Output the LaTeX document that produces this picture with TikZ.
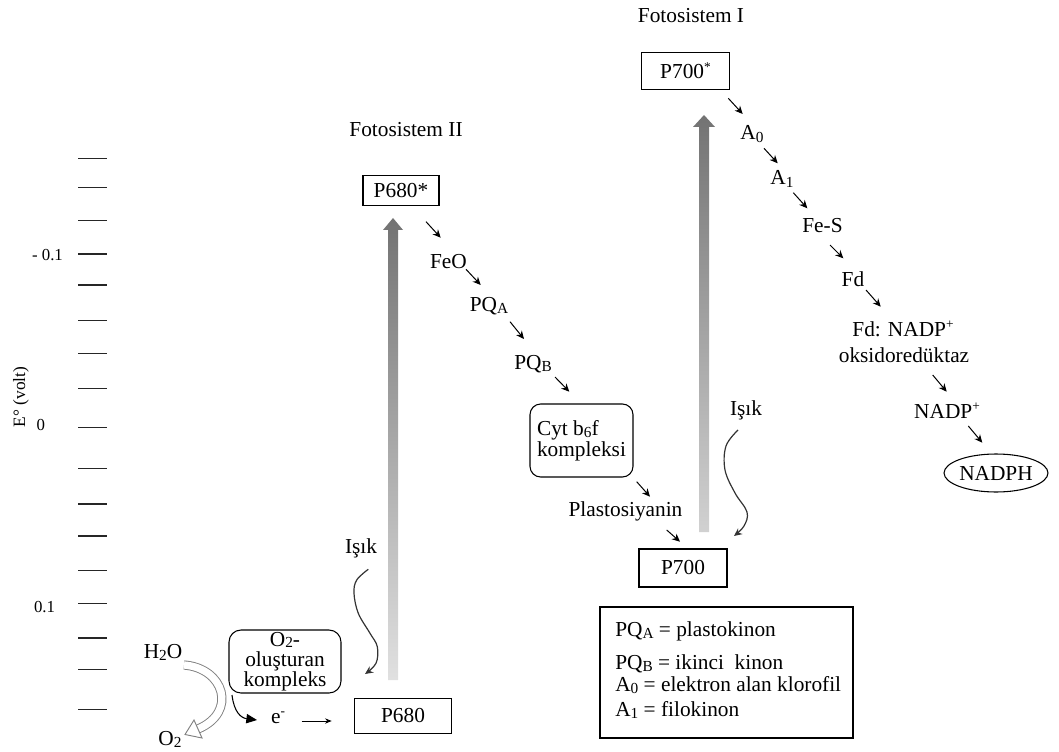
\documentclass[tikz,border=0pt]{standalone}
\usepackage{fontspec}
\setmainfont{Liberation Serif}
\usetikzlibrary{arrows.meta,shapes.geometric,calc}
\newcommand\mf{\fontsize{16}{19}\selectfont}
\newcommand\tf{\fontsize{12.6}{14}\selectfont}
\newcommand\lowsub[1]{\raisebox{-1.6pt}{\fontsize{11.5}{12}\selectfont #1}}
\newcommand\hisup[1]{\raisebox{5.5pt}{\fontsize{10}{10}\selectfont #1}}
\begin{document}
\begin{tikzpicture}[x=0.75pt,y=-0.75pt,
  lab/.style={font=\mf, inner sep=0pt, anchor=base},
  labw/.style={font=\mf, inner sep=0pt, anchor=base west},
  tlab/.style={font=\tf, inner sep=0pt, anchor=base},
  box/.style={draw, line width=0.8pt, font=\mf, inner sep=0pt},
  rbox/.style={draw, line width=0.8pt, rounded corners=8pt, inner sep=0pt},
  arr/.style={line width=0.75pt, -{Stealth[length=6pt,width=5.5pt]}},
  wavy/.style={line width=0.9pt, black!80, -{Stealth[length=6pt,width=5.5pt]}},
  tickline/.style={line width=1pt, black!85},
]
\useasboundingbox (0,0) rectangle (1059,752);

% axis ticks
\foreach \yy in {158.3,187.7,220.7,254,285,320.7,353.3,388.3,427.3,468.3,504,536,570.3,603.7,638,669.7,709.3}
  \draw[tickline] (78,\yy) -- (107,\yy);
\node[tlab] (tm) at (47.5,260) {- 0.1};
\node[tlab] (tz) at (40.7,430) {0};
\node[tlab] (tp) at (44.5,612) {0.1};
\node[font=\fontsize{13}{15}\selectfont, inner sep=0pt, rotate=90] (ax) at (21,397) {E° (volt)};

% gradient arrows
\shade[top color=black!55, bottom color=black!12]
  (388,680) -- (388,230) -- (383,230) -- (393,218) -- (403,230) -- (398,230) -- (398,680) -- cycle;
\shade[top color=black!55, bottom color=black!18]
  (699,532) -- (699,127) -- (693,127) -- (704,115) -- (715,127) -- (709,127) -- (709,532) -- cycle;

% Photosystem II
\node[lab] (fs2) at (406,136.7) {Fotosistem II};
\node[box, minimum width=57pt, minimum height=22.5pt] (p680s) at (401,190.5) {P680*};
\node[lab] (feo) at (448.5,268) {FeO};
\node[lab] (pqa) at (489,311.5) {PQ\lowsub{A}};
\node[lab] (pqb) at (533,369.5) {PQ\lowsub{B}};
\node[rbox, font=\fontsize{16}{13.5}\selectfont, align=left, minimum width=77.25pt, minimum height=54.75pt] (cyt) at (581.5,440.5) {Cyt b\lowsub{6}f\\kompleksi};
\node[lab] (plast) at (625.5,516.7) {Plastosiyanin};
\node[box, minimum width=66pt, minimum height=28.5pt] (p700) at (683,568) {P700};

\path (426,221.7) coordinate (a1s) (440.7,237.7) coordinate (a1e)
      (466,269.3) coordinate (a2s) (480.7,285) coordinate (a2e)
      (510,321.7) coordinate (a3s) (524,339) coordinate (a3e)
      (555,377) coordinate (a4s) (569.3,391.7) coordinate (a4e)
      (636.7,481.7) coordinate (a5s) (650,496.7) coordinate (a5e)
      (666.7,530) coordinate (a6s) (680,541.7) coordinate (a6e);
\foreach \i in {1,...,6} \draw[arr] (a\i s) -- (a\i e);

% Photosystem II bottom
\node[lab] (isik2) at (361,553) {Işık};
\draw[wavy] plot[smooth, tension=0.6] coordinates {(368.3,569.3) (356.7,580) (354,593.3) (358.3,613.3) (370,633.3) (377.3,646.7) (376,663.3) (365,674)};
\node[rbox, rounded corners=9pt, font=\fontsize{16}{15}\selectfont, align=center, minimum width=84pt, minimum height=47.25pt] (o2c) at (285,661.5) {O\raisebox{-1pt}{\fontsize{11.5}{12}\selectfont 2}-\\oluşturan\\kompleks};
\node[lab] (h2o) at (163,658.3) {H\lowsub{2}O};
\node[lab] (o2) at (170,745) {O\lowsub{2}};
\node[lab] (e) at (278,723.3) {e\hisup{-}};
\node[box, minimum width=73.3pt, minimum height=26.8pt] (p680) at (403,716) {P680};

\coordinate (hs) at (184,665);
\coordinate (he) at (198,729);
\draw[black!50, line width=0.7pt, double=white, double distance=5.5pt] (hs) .. controls (224,668) and (238,712) .. (he);
\draw[black!50, line width=0.7pt, fill=white] (202,738) -- (185,734.5) -- (194,720) -- cycle;
\coordinate (bs) at (232,695);
\coordinate (be) at (257,720);
\draw[line width=0.8pt, -{Triangle[length=8pt,width=7pt]}] (bs) .. controls (234,712) and (241,718) .. (be);
\coordinate (es) at (301.7,721);
\coordinate (ee) at (331.7,721);
\draw[line width=0.6pt, -{Stealth[length=5pt,width=4pt]}] (es) -- (ee);

% Photosystem I
\node[lab] (fs1) at (691,22.7) {Fotosistem I};
\node[box, minimum width=65.7pt, minimum height=27.75pt] (p700s) at (685.5,70.8) {P700\hisup{*}};
\node[lab] (a0) at (752,140) {A\lowsub{0}};
\node[lab] (a1) at (782,185) {A\lowsub{1}};
\node[lab] (fes) at (822.5,233) {Fe-S};
\node[lab] (fd) at (853,286) {Fd};
\node[lab] (fdn) at (903,336) {Fd: NADP\hisup{+}};
\node[lab] (oks) at (904,362.7) {oksidoredüktaz};
\node[lab] (nadp) at (947,418) {NADP\hisup{+}};
\node[draw, ellipse, line width=0.8pt, font=\mf, inner sep=0pt, minimum width=74.25pt, minimum height=28.5pt] (nadph) at (996,473) {NADPH};

\path (728.3,98.3) coordinate (b1s) (742.7,114) coordinate (b1e)
      (764,148.3) coordinate (b2s) (777.7,163.3) coordinate (b2e)
      (793.3,192.7) coordinate (b3s) (807.3,208.3) coordinate (b3e)
      (830,245) coordinate (b4s) (843.3,258.3) coordinate (b4e)
      (866,290) coordinate (b5s) (880.7,306.7) coordinate (b5e)
      (932.7,375) coordinate (b6s) (946.7,391.7) coordinate (b6e)
      (968.3,426) coordinate (b7s) (982.3,442.7) coordinate (b7e);
\foreach \i in {1,...,7} \draw[arr] (b\i s) -- (b\i e);

\node[lab] (isik1) at (746,415) {Işık};
\draw[wavy] plot[smooth, tension=0.6] coordinates {(738,430) (726,446) (725,470) (735,493) (747,512) (744,526) (734,536)};

% legend
\node[draw, line width=0.8pt, minimum width=189.75pt, minimum height=98.25pt, inner sep=0pt] (leg) at (726.5,672.5) {};
\node[labw] (lg1) at (615,636.7) {PQ\lowsub{A} = plastokinon};
\node[labw] (lg2) at (615,669) {PQ\lowsub{B} = ikinci\ \ kinon};
\node[labw] (lg3) at (615,691.7) {A\lowsub{0} = elektron alan klorofil};
\node[labw] (lg4) at (615,716.7) {A\lowsub{1} = filokinon};
\end{tikzpicture}
\end{document}
